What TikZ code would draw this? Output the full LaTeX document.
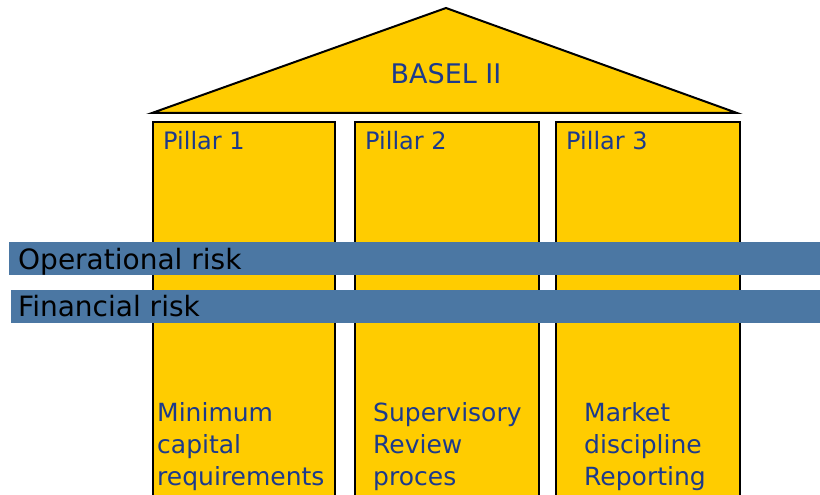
\documentclass[tikz,border=0pt]{standalone}
\usepackage{fontspec}
\setmainfont{DejaVu Sans}
\definecolor{roofyellow}{HTML}{FFCC00}
\definecolor{barblue}{HTML}{4B77A3}
\definecolor{textblue}{HTML}{1C3A8C}
\tikzset{
  shape yellow/.style={fill=roofyellow, draw=black, line width=2pt, line join=miter},
  riskbar/.style={fill=barblue},
  risklabel/.style={anchor=base west, inner sep=0pt, text=black, font=\fontsize{28}{32}\selectfont},
  pillarlabel/.style={anchor=base west, inner sep=0pt, text=textblue, font=\fontsize{24}{28}\selectfont},
  bottomlabel/.style={anchor=base west, inner sep=0pt, text=textblue, align=left, font=\fontsize{25}{32}\selectfont},
}
\begin{document}
\begin{tikzpicture}[x=1pt,y=-1pt]
\useasboundingbox (0,0) rectangle (820,495);
% roof
\draw[shape yellow] (152,113) -- (446,8) -- (737,113) -- cycle;
\node[anchor=base, inner sep=0pt, text=textblue, font=\fontsize{27}{30}\selectfont] (basel) at (446,84) {BASEL II};
% pillars
\filldraw[shape yellow] (153,497) -- (153,122) -- (335,122) -- (335,497);
\filldraw[shape yellow] (355,497) -- (355,122) -- (539,122) -- (539,497);
\filldraw[shape yellow] (556,497) -- (556,122) -- (740,122) -- (740,497);
\node[pillarlabel] (p1) at (163,149) {Pillar 1};
\node[pillarlabel] (p2) at (365,149) {Pillar 2};
\node[pillarlabel] (p3) at (566,149) {Pillar 3};
% risk bars
\fill[riskbar] (9,242) rectangle (820,275);
\fill[riskbar] (11,290) rectangle (820,323);
\node[risklabel] (op) at (18,269) {Operational risk};
\node[risklabel] (fin) at (18,316) {Financial risk};
% bottom texts
\node[bottomlabel] (b1) at (157,485) {Minimum\\capital\\requirements};
\node[bottomlabel] (b2) at (373,485) {Supervisory\\Review\\proces};
\node[bottomlabel] (b3) at (584,485) {Market\\discipline\\Reporting};
\end{tikzpicture}
\end{document}
